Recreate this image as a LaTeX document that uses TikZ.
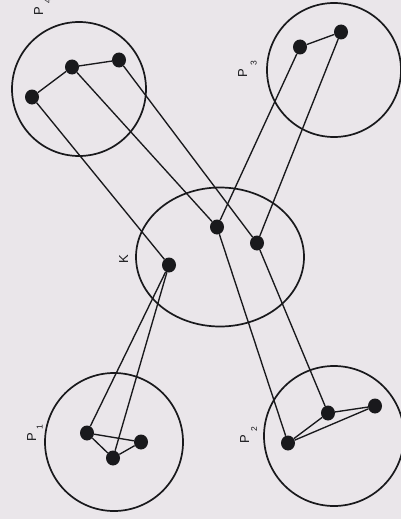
\documentclass[tikz,border=0pt]{standalone}
\usepackage{fontspec}
\setmainfont{Liberation Sans}
\usetikzlibrary{shapes.geometric}
\definecolor{paper}{RGB}{234,230,234}
\definecolor{ink}{RGB}{25,25,28}
\newcommand{\lsub}[2]{\hspace{4pt}\raisebox{#1}{\fontsize{8.5}{8.5}\selectfont #2}}
\tikzset{
  region/.style={draw=ink, line width=1.7pt, circle, inner sep=0pt},
  kregion/.style={draw=ink, line width=1.7pt, ellipse, inner sep=0pt},
  dot/.style={fill=ink, ellipse, inner sep=0pt, minimum width=14pt, minimum height=15pt},
  link/.style={draw=ink, line width=1.35pt},
  lbl/.style={rotate=90, anchor=base west, inner sep=0pt, text=ink, font=\fontsize{13}{15}\selectfont}
}
\begin{document}
\begin{tikzpicture}[x=1pt,y=-1pt]
\fill[paper] (0,0) rectangle (401,519);
\useasboundingbox (0,0) rectangle (401,519);
% regions
\node[region, minimum size=134pt] (P4) at (79,89) {};
\node[region, minimum size=134pt] (P3) at (334,70) {};
\node[kregion, minimum width=168pt, minimum height=139pt] (K) at (220,257) {};
\node[region, minimum size=138pt] (P1) at (114,442) {};
\node[region, minimum size=140pt] (P2) at (334,436) {};
% labels
\node[lbl] (lP4) at (43,16) {P\lsub{-7.5pt}{4}};
\node[lbl] (lP3) at (247,78) {P\lsub{-9.5pt}{3}};
\node[lbl] (lK) at (128,264) {K};
\node[lbl] (lP1) at (36,442) {P\lsub{-6.5pt}{1}};
\node[lbl] (lP2) at (249,444) {P\lsub{-8pt}{2}};
% dots
\node[dot] (a1) at (32,97) {};
\node[dot] (a2) at (72,67) {};
\node[dot] (a3) at (119,60) {};
\node[dot] (b1) at (300,47) {};
\node[dot] (b2) at (341,32) {};
\node[dot] (k1) at (169,265) {};
\node[dot] (k2) at (217,227) {};
\node[dot] (k3) at (257,243) {};
\node[dot] (c1) at (87,433) {};
\node[dot] (c2) at (113,458) {};
\node[dot] (c3) at (141,442) {};
\node[dot] (d1) at (288,443) {};
\node[dot] (d2) at (328,413) {};
\node[dot] (d3) at (375,406) {};
% links inside regions
\path[link] (a1) -- (a2) -- (a3);
\path[link] (b1) -- (b2);
\path[link] (c1) -- (c2) -- (c3) -- (c1);
\path[link] (d1) -- (d2) -- (d3) -- (d1);
% links between regions
\path[link] (a1) -- (k1);
\path[link] (a2) -- (k2);
\path[link] (a3) -- (k3);
\path[link] (k2) -- (b1);
\path[link] (k3) -- (b2);
\path[link] (k1) -- (c1);
\path[link] (k1) -- (c2);
\path[link] (k2) -- (d1);
\path[link] (k3) -- (d2);
\end{tikzpicture}
\end{document}
